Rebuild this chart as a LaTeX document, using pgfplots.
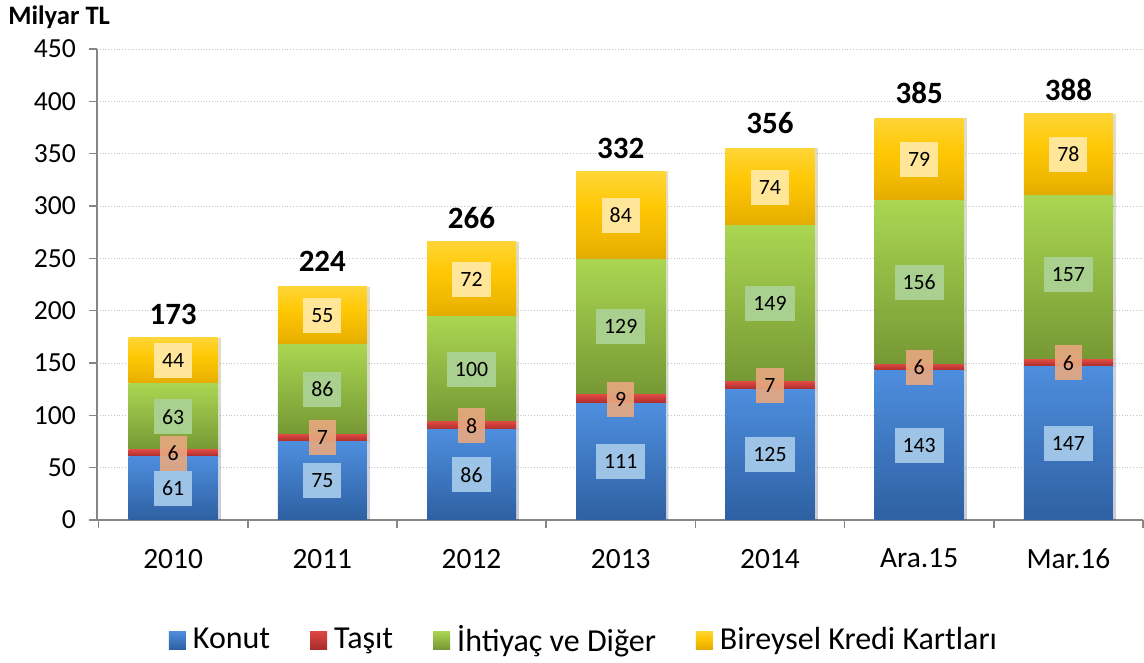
\documentclass[border=0pt]{standalone}
\usepackage{pgfplots}
\pgfplotsset{compat=1.18}
\usepackage{fontspec}
\setmainfont{Carlito}
\definecolor{kTop}{RGB}{78,142,222}
\definecolor{kBot}{RGB}{46,96,162}
\definecolor{tTop}{RGB}{222,72,66}
\definecolor{tBot}{RGB}{168,44,44}
\definecolor{gTop}{RGB}{170,214,82}
\definecolor{gBot}{RGB}{118,152,52}
\definecolor{yTop}{RGB}{255,230,115}
\definecolor{yMid}{RGB}{255,200,5}
\definecolor{yLow}{RGB}{236,180,0}
\definecolor{yBot}{RGB}{186,136,8}
\definecolor{kLab}{RGB}{157,195,230}
\definecolor{tLab}{RGB}{232,168,128}
\definecolor{gLab}{RGB}{169,208,142}
\definecolor{yLab}{RGB}{255,230,153}
\definecolor{axgray}{RGB}{134,134,134}
\pgfdeclareverticalshading{yshade}{100bp}{color(0bp)=(yBot); color(32bp)=(yLow); color(55bp)=(yMid); color(100bp)=(yTop)}

\pgfplotstableread{
x konut tasit ihtiyac kart
0 61 6 63 44
1 75 7 86 55
2 86 8 100 72
3 111 9 129 84
4 125 7 149 74
5 143 6 156 79
6 147 6 157 78
}\datatable

\pgfplotstableread{
x y l
0 30.5 61
1 37.5 75
2 43 86
3 55.5 111
4 62.5 125
5 71.5 143
6 73.5 147
}\labK
\pgfplotstableread{
x y l
0 64 6
1 78.5 7
2 90 8
3 115.5 9
4 128.5 7
5 146 6
6 150 6
}\labT
\pgfplotstableread{
x y l
0 98.5 63
1 125 86
2 144 100
3 184.5 129
4 206.5 149
5 227 156
6 234.5 157
}\labG
\pgfplotstableread{
x y l
0 152 44
1 195.5 55
2 230 72
3 291 84
4 318 74
5 344.5 79
6 349.5 78
}\labY
\pgfplotstableread{
x y l
0 173 173
1 224 224
2 266 266
3 332 332
4 356 356
5 385 385
6 388 388
}\labTot

\pgfplotsset{common/.style={scale only axis, width=523pt, height=235.5pt,
  xmin=-0.51, xmax=6.5, ymin=0, ymax=450},
  shad/.style={preaction={fill=black, fill opacity=0.13, transform canvas={xshift=1.6pt}}}}

\newcommand\catbars[1]{%
\begin{axis}[common, axis lines=none, ticks=none, ybar stacked, bar width=44.5pt,
  x filter/.expression={abs(x-#1)<0.1 ? x : nan}]
\addplot[draw=none, shad, top color=kTop, bottom color=kBot] table[x=x,y=konut] {\datatable};
\addplot[draw=none, shad, top color=tTop, bottom color=tBot] table[x=x,y=tasit] {\datatable};
\addplot[draw=none, shad, top color=gTop, bottom color=gBot] table[x=x,y=ihtiyac] {\datatable};
\addplot[draw=none, shad, shading=yshade] table[x=x,y=kart] {\datatable};
\end{axis}}

\begin{document}
\begin{tikzpicture}
\path (-48.5pt,-70pt) rectangle (523.5pt,260pt);
\begin{axis}[common,
  ytick={0,50,...,450},
  xtick={0,...,6},
  xticklabels={2010,2011,2012,2013,2014,Ara.15,Mar.16},
  minor xtick={-0.5,0.5,...,6.5},
  major x tick style={draw=none},
  minor x tick style={draw=axgray, thick},
  ytick style={draw=axgray, thick},
  minor tick length=4pt, major tick length=4pt,
  tick align=outside,
  axis x line*=bottom, axis y line*=left,
  axis line style={draw=axgray, thick, -},
  ymajorgrids, grid style={densely dotted, gray!45},
  yticklabel style={xshift=-3pt, font=\fontsize{13.8}{15}\selectfont},
  xticklabel style={yshift=-7pt, font=\fontsize{14.7}{16}\selectfont},
  /pgf/number format/assume math mode=true,
  legend columns=4,
  legend style={at={(0.4665,-0.255)}, anchor=center, draw=none,
    font=\fontsize{16}{18}\selectfont,
    /tikz/every even column/.append style={column sep=18pt}},
  legend image code/.code={\fill[#1] (0pt,-4.5pt) rectangle (8.5pt,4.5pt); \path (10pt,0pt);},
]
\addlegendimage{draw=none, top color=kTop, bottom color=kBot}
\addlegendentry{Konut}
\addlegendimage{draw=none, top color=tTop, bottom color=tBot}
\addlegendentry{Taşıt}
\addlegendimage{draw=none, top color=gTop, bottom color=gBot}
\addlegendentry{İhtiyaç ve Diğer}
\addlegendimage{draw=none, shading=yshade}
\addlegendentry{Bireysel Kredi Kartları}
\end{axis}
\catbars{0}
\catbars{1}
\catbars{2}
\catbars{3}
\catbars{4}
\catbars{5}
\catbars{6}
\begin{axis}[common,
  axis lines=none, ticks=none,
  nodes near coords, point meta=explicit symbolic,
  every node near coord/.append style={anchor=center, text=black,
    font=\fontsize{10.9}{12}\selectfont, inner xsep=4pt,
    minimum height=17.5pt},
]
\addplot[draw=none, mark=none, nodes near coords style={fill=kLab}] table[x=x,y=y,meta=l] {\labK};
\addplot[draw=none, mark=none, nodes near coords style={fill=tLab, fill opacity=0.9, text opacity=1}] table[x=x,y=y,meta=l] {\labT};
\addplot[draw=none, mark=none, nodes near coords style={fill=gLab}] table[x=x,y=y,meta=l] {\labG};
\addplot[draw=none, mark=none, nodes near coords style={fill=yLab}] table[x=x,y=y,meta=l] {\labY};
\addplot[draw=none, mark=none, nodes near coords style={font=\bfseries\fontsize{15.5}{17}\selectfont, yshift=12pt}] table[x=x,y=y,meta=l] {\labTot};
\end{axis}
\node[anchor=west, inner sep=0pt, font=\bfseries\fontsize{13.3}{15}\selectfont] at (-44.5pt,251.5pt) {Milyar TL};
\end{tikzpicture}
\end{document}
